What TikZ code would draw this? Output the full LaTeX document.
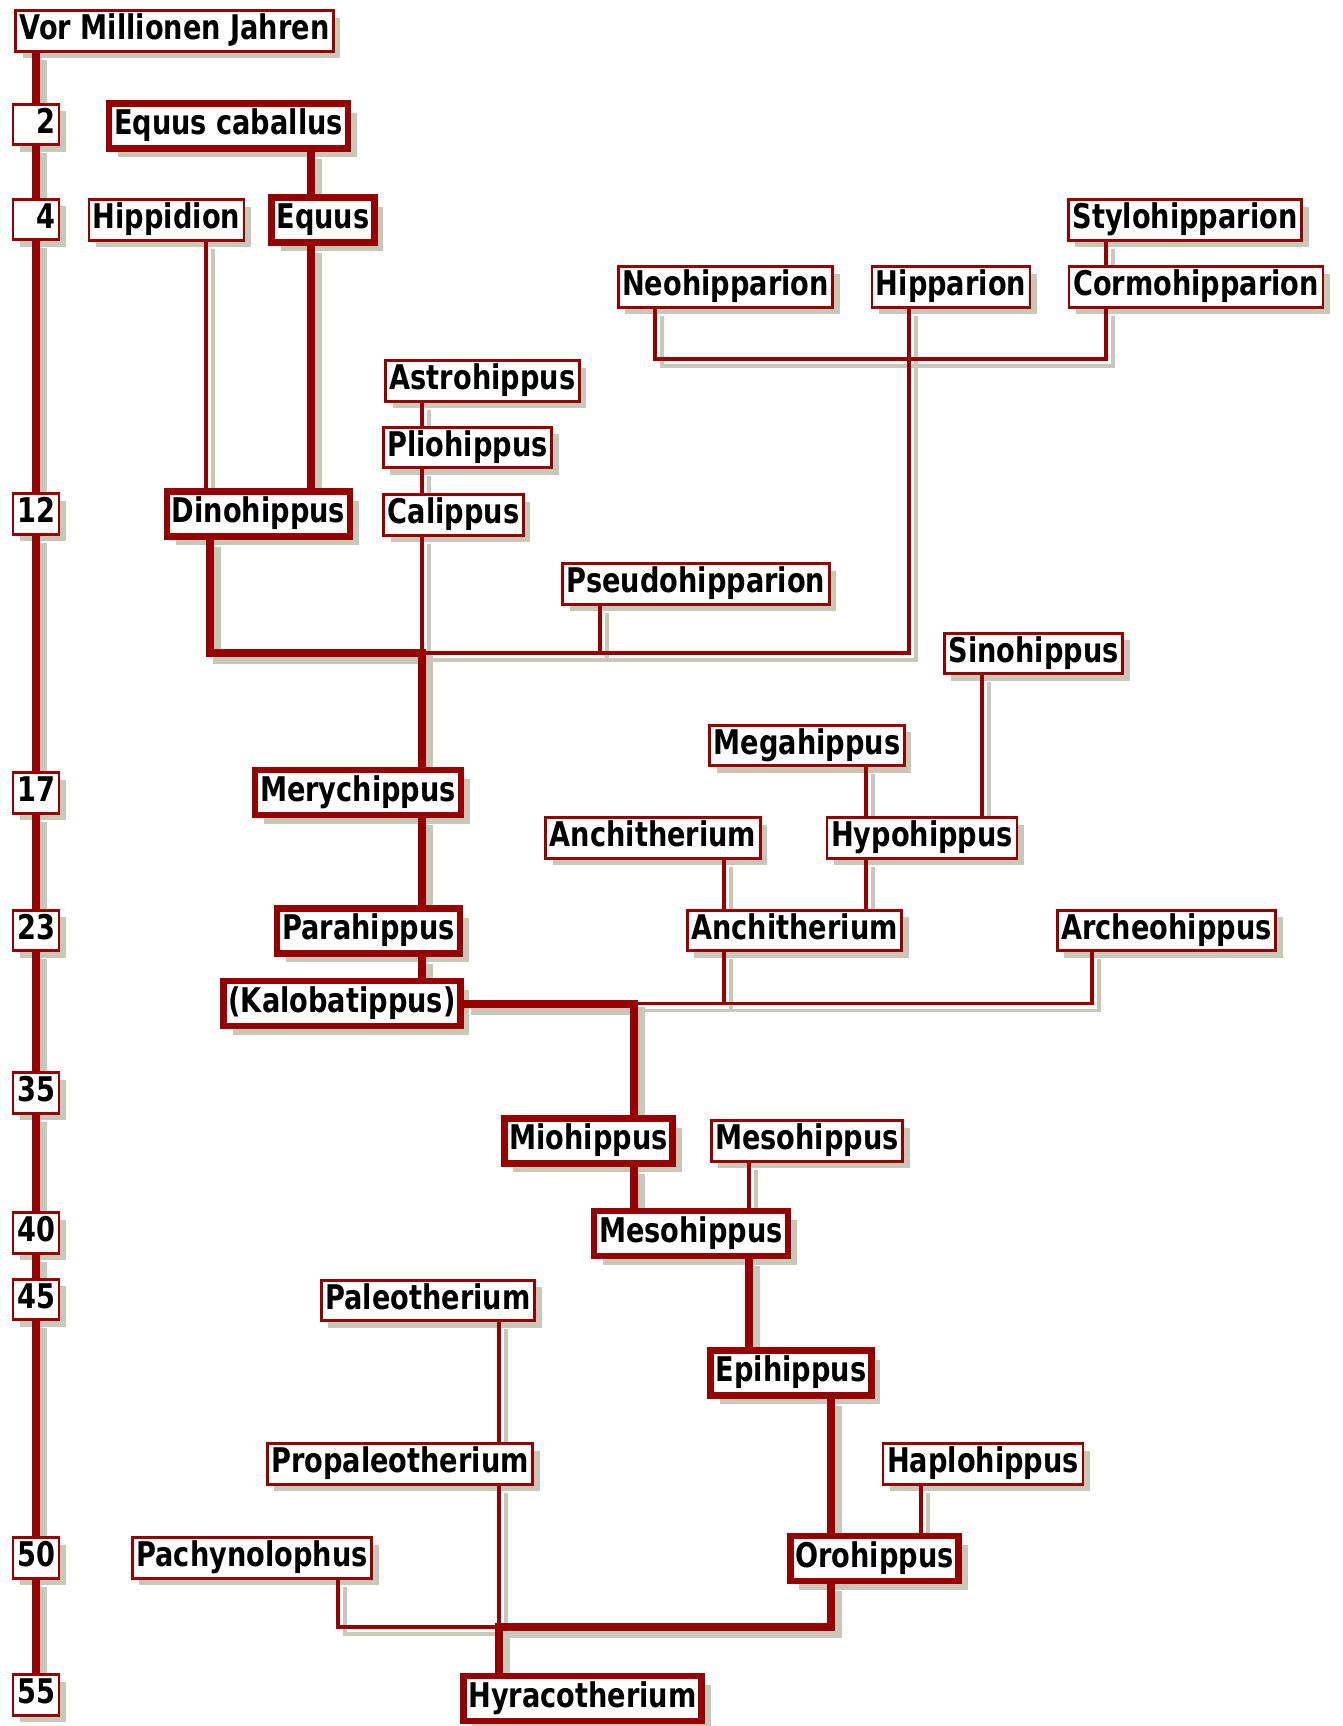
\documentclass[tikz,border=0pt]{standalone}
\usepackage{fontspec}
\newfontfamily\gattung{DejaVu Sans}[FakeStretch=0.8]
\usepackage{tikz}
\usetikzlibrary{shadows}
\usepackage{xcolor}
\definecolor{rotbraun}{RGB}{150,0,0}
\definecolor{schatten}{RGB}{200,200,186}
\colorlet{astfarbe}{rotbraun}
\pgfdeclarelayer{schattenebene}
\pgfdeclarelayer{linienebene}
\pgfsetlayers{schattenebene,main,linienebene}
\tikzset{
  kasten/.style={rectangle, draw=rotbraun, fill=white, text height=12.5pt, text depth=3.8pt,
                 font=\gattung\bfseries\fontsize{17pt}{17pt}\selectfont},
  art/.style={kasten, line width=1.35pt, inner sep=2pt,
              drop shadow={shadow xshift=3.5pt, shadow yshift=-3.5pt, fill=schatten, opacity=1}},
  hauptart/.style={kasten, line width=3.25pt, inner xsep=2.5pt, inner ysep=3pt,
              drop shadow={shadow xshift=4.5pt, shadow yshift=-4.5pt, fill=schatten, opacity=1}},
  zeit/.style={art, text width=19pt, align=right},
  ast/.style={draw=astfarbe, line width=1.6pt},
  stamm/.style={draw=astfarbe, line width=4pt}
}
\newcommand{\aeste}{%
    \foreach \oben/\unten in {t2/t4, t4/t12, t12/t17, t17/t23, t23/t35, t35/t40, t40/t45, t45/t50, t50/t55}
        \draw[stamm] (\oben.south) -- (\unten.north);
    \draw[stamm] (kopf.south -| t2) -- (t2.north);
    \draw[stamm] (ecab.south -| 311,0) -- (equus.north -| 311,0);
    \draw[stamm] (equus.south -| 311,0) -- (dino.north -| 311,0);
    \draw[ast]   (hipp.south -| 206,0) -- (dino.north -| 206,0);
    \draw[ast]   (stylo.south -| gabelA) -- (cormo.north -| gabelA);
    \draw[ast]   (neo.south -| 655,0) |- (gabelA) -- (cormo.south -| gabelA);
    \draw[ast]   (hippa.south -| 909,0) |- (gabelB);
    \draw[ast]   (astro.south -| gabelB) -- (plio.north -| gabelB);
    \draw[ast]   (plio.south -| gabelB) -- (cali.north -| gabelB);
    \draw[ast]   (cali.south -| gabelB) -- (gabelB);
    \draw[ast]   (pseudo.south -| 600,0) -- (gabelB -| 600,0);
    \draw[stamm] (dino.south -| 210,0) |- (gabelB) -- (mery.north -| gabelB);
    \draw[stamm] (mery.south -| gabelB) -- (para.north -| gabelB);
    \draw[stamm] (para.south -| gabelB) -- (kalo.north -| gabelB);
    \draw[ast]   (sino.south -| 982,0) -- (hypo.north -| 982,0);
    \draw[ast]   (mega.south -| 866,0) -- (hypo.north -| 866,0);
    \draw[ast]   (hypo.south -| 866,0) -- (anchi2.north -| 866,0);
    \draw[ast]   (anchi1.south -| 724,0) -- (anchi2.north -| 724,0);
    \draw[ast]   (anchi2.south -| 724,0) -- (gabelC -| 724,0);
    \draw[ast]   (gabelC) -| (arche.south -| 1092,0);
    \draw[stamm] (kalo.east) -- (gabelC) -- (mio.north -| gabelC);
    \draw[stamm] (mio.south -| gabelC) -- (meso2.north -| gabelC);
    \draw[ast]   (meso1.south -| 749,0) -- (meso2.north -| 749,0);
    \draw[stamm] (meso2.south -| 749,0) -- (epi.north -| 749,0);
    \draw[stamm] (epi.south -| 831,0) -- (oro.north -| 831,0);
    \draw[ast]   (haplo.south -| 921,0) -- (oro.north -| 921,0);
    \draw[ast]   (paleo.south -| gabelD) -- (propa.north -| gabelD);
    \draw[ast]   (propa.south -| gabelD) -- (gabelD);
    \draw[ast]   (pachy.south -| 338,0) |- (gabelD);
    \draw[stamm] (oro.south -| 831,0) |- (gabelD) -- (hyra.north -| gabelD);
}

\begin{document}
\begin{tikzpicture}[x=0.5pt, y=-0.5pt]
    \useasboundingbox (0,0) rectangle (1343,1726);
    % Zeitachse
    \node[art]  (kopf) at (174.5,31)  {Vor Millionen Jahren};
    \node[zeit] (t2)   at (36,124.5)  {2};
    \node[zeit] (t4)   at (36,219.5)  {4};
    \node[zeit] (t12)  at (36,514)    {12};
    \node[zeit] (t17)  at (36,793)    {17};
    \node[zeit] (t23)  at (36,930.5)  {23};
    \node[zeit] (t35)  at (36,1093)   {35};
    \node[zeit] (t40)  at (36,1233)   {40};
    \node[zeit] (t45)  at (36,1299.5) {45};
    \node[zeit] (t50)  at (36,1558)   {50};
    \node[zeit] (t55)  at (36,1695)   {55};
    % Hauptlinie
    \node[hauptart] (ecab)  at (228.5,126)  {Equus caballus};
    \node[hauptart] (equus) at (323,220)    {Equus};
    \node[hauptart] (dino)  at (258.5,514)  {Dinohippus};
    \node[hauptart] (mery)  at (358,792.5)  {Merychippus};
    \node[hauptart] (para)  at (368.5,931)  {Parahippus};
    \node[hauptart] (kalo)  at (342,1003.5) {(Kalobatippus)};
    \node[hauptart] (mio)   at (588.5,1141) {Miohippus};
    \node[hauptart] (meso2) at (691,1233.5) {Mesohippus};
    \node[hauptart] (epi)   at (791,1373)   {Epihippus};
    \node[hauptart] (oro)   at (874.5,1558.5) {Orohippus};
    \node[hauptart] (hyra)  at (582.5,1698.5) {Hyracotherium};
    % Seitenlinien
    \node[art] (hipp)   at (166.5,220) {Hippidion};
    \node[art] (stylo)  at (1185,220)  {Stylohipparion};
    \node[art] (neo)    at (725.5,287) {Neohipparion};
    \node[art] (hippa)  at (951,287)   {Hipparion};
    \node[art] (cormo)  at (1196,287)  {Cormohipparion};
    \node[art] (astro)  at (482.5,381) {Astrohippus};
    \node[art] (plio)   at (467.5,447.5) {Pliohippus};
    \node[art] (cali)   at (453.5,515) {Calippus};
    \node[art] (pseudo) at (696,584)   {Pseudohipparion};
    \node[art] (sino)   at (1033.5,653.5) {Sinohippus};
    \node[art] (mega)   at (807,745.5) {Megahippus};
    \node[art] (anchi1) at (653,838)   {Anchitherium};
    \node[art] (hypo)   at (922,838)   {Hypohippus};
    \node[art] (anchi2) at (794.5,930.5) {Anchitherium};
    \node[art] (arche)  at (1166.5,930.5) {Archeohippus};
    \node[art] (meso1)  at (807,1141)  {Mesohippus};
    \node[art] (paleo)  at (428,1300.5) {Paleotherium};
    \node[art] (propa)  at (400,1464)  {Propaleotherium};
    \node[art] (haplo)  at (983,1464)  {Haplohippus};
    \node[art] (pachy)  at (252,1558)  {Pachynolophus};
    % Gabelungen
    \coordinate (gabelA) at (1106,359);
    \coordinate (gabelB) at (422,653);
    \coordinate (gabelC) at (kalo.east -| 634,0);
    \coordinate (gabelD) at (499,1627);
    \begin{pgfonlayer}{schattenebene}
        \fill[white] (0,0) rectangle (1343,1726);
        \begin{scope}[transform canvas={shift={(3.5pt,-3.5pt)}}]
            \colorlet{astfarbe}{schatten}
            \aeste
        \end{scope}
    \end{pgfonlayer}
    \begin{pgfonlayer}{linienebene}
        \aeste
    \end{pgfonlayer}
\end{tikzpicture}
\end{document}
